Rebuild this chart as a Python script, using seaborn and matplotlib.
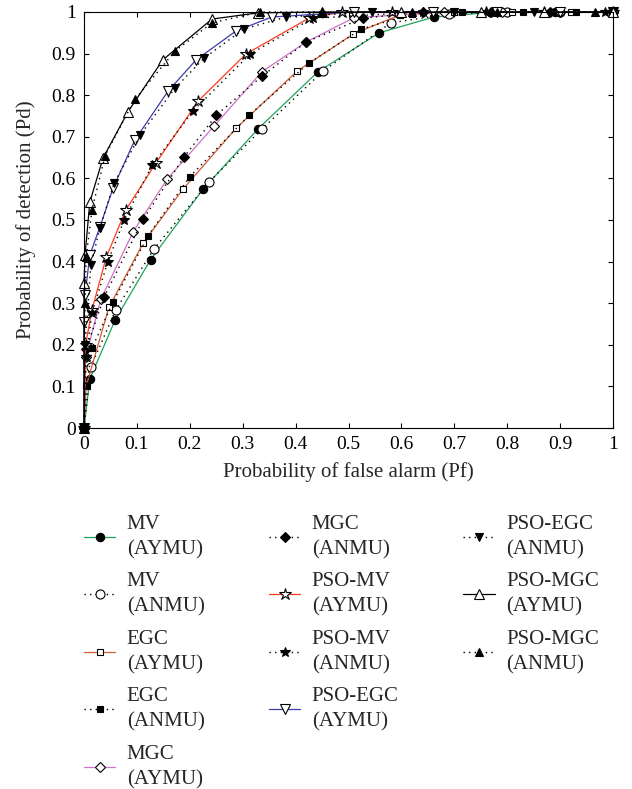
import matplotlib

matplotlib.use("Agg")
import matplotlib.pyplot as plt
import numpy as np
import seaborn as sns
from matplotlib.lines import Line2D

# series labels (legend order)
series_labels = [
    "MV\n(AYMU)", "MV\n(ANMU)", "EGC\n(AYMU)", "EGC\n(ANMU)", "MGC\n(AYMU)",
    "MGC\n(ANMU)", "PSO-MV\n(AYMU)", "PSO-MV\n(ANMU)", "PSO-EGC\n(AYMU)",
    "PSO-EGC\n(ANMU)", "PSO-MGC\n(AYMU)", "PSO-MGC\n(ANMU)",
]

# values (Pf, Pd)
mv_aymu_pf = [0, 0.011, 0.059, 0.126, 0.225, 0.329, 0.442, 0.558, 0.662, 0.78, 0.89, 1.0]
mv_aymu_pd = [0, 0.118, 0.26, 0.405, 0.574, 0.719, 0.856, 0.950, 0.988, 1.0, 1.0, 1.0]

mv_anmu_pf = [0, 0.013, 0.06, 0.132, 0.236, 0.336, 0.452, 0.58, 0.69, 0.80, 0.90, 1.0]
mv_anmu_pd = [0, 0.147, 0.284, 0.43, 0.591, 0.718, 0.858, 0.974, 0.995, 1.0, 1.0, 1.0]

egc_aymu_pf = [0, 0.004, 0.047, 0.112, 0.187, 0.287, 0.403, 0.509, 0.597, 0.70, 0.81, 0.92, 1.0]
egc_aymu_pd = [0, 0.10, 0.29, 0.445, 0.574, 0.72, 0.858, 0.947, 0.993, 1.0, 1.0, 1.0, 1.0]

egc_anmu_pf = [0, 0.005, 0.015, 0.055, 0.121, 0.2, 0.312, 0.425, 0.524, 0.62, 0.715, 0.83, 0.93, 1.0]
egc_anmu_pd = [0, 0.1, 0.192, 0.303, 0.462, 0.604, 0.752, 0.877, 0.959, 0.995, 1.0, 1.0, 1.0, 1.0]

mgc_aymu_pf = [0, 0.003, 0.032, 0.093, 0.157, 0.246, 0.336, 0.42, 0.51, 0.68, 0.79, 0.90, 1.0]
mgc_aymu_pd = [0, 0.17, 0.31, 0.472, 0.598, 0.726, 0.856, 0.928, 0.986, 1.0, 1.0, 1.0, 1.0]

mgc_anmu_pf = [0, 0.004, 0.038, 0.112, 0.189, 0.25, 0.336, 0.42, 0.527, 0.64, 0.77, 0.88, 1.0]
mgc_anmu_pd = [0, 0.19, 0.315, 0.502, 0.651, 0.752, 0.845, 0.928, 0.985, 1.0, 1.0, 1.0, 1.0]

psomv_aymu_pf = [0, 0.003, 0.015, 0.042, 0.079, 0.136, 0.216, 0.306, 0.425, 0.488, 0.582, 0.76, 0.87, 1.0]
psomv_aymu_pd = [0, 0.2, 0.284, 0.41, 0.524, 0.637, 0.786, 0.899, 0.985, 1.0, 1.0, 1.0, 1.0, 1.0]

psomv_anmu_pf = [0, 0.004, 0.015, 0.045, 0.076, 0.129, 0.206, 0.314, 0.432, 0.64, 0.76, 0.87, 0.985]
psomv_anmu_pd = [0, 0.17, 0.276, 0.40, 0.50, 0.632, 0.762, 0.899, 0.985, 1.0, 1.0, 1.0, 1.0]

psoegc_aymu_pf = [0, 0.0, 0.002, 0.011, 0.03, 0.055, 0.096, 0.159, 0.212, 0.287, 0.355, 0.51, 0.66, 0.78, 0.90, 1.0]
psoegc_aymu_pd = [0, 0.255, 0.32, 0.416, 0.483, 0.577, 0.692, 0.81, 0.885, 0.954, 0.988, 1.0, 1.0, 1.0, 1.0, 1.0]

psoegc_anmu_pf = [0, 0.002, 0.013, 0.03, 0.057, 0.106, 0.172, 0.227, 0.302, 0.382, 0.544, 0.70, 0.85, 1.0]
psoegc_anmu_pd = [0, 0.2, 0.392, 0.48, 0.589, 0.704, 0.817, 0.889, 0.959, 0.988, 1.0, 1.0, 1.0, 1.0]

psomgc_aymu_pf = [0, 0.0, 0.002, 0.011, 0.036, 0.083, 0.149, 0.242, 0.329, 0.45, 0.60, 0.75, 0.87, 1.0]
psomgc_aymu_pd = [0, 0.349, 0.416, 0.543, 0.649, 0.76, 0.885, 0.983, 0.998, 1.0, 1.0, 1.0, 1.0, 1.0]

psomgc_anmu_pf = [0, 0.002, 0.004, 0.015, 0.04, 0.096, 0.172, 0.242, 0.333, 0.45, 0.62, 0.78, 0.966]
psomgc_anmu_pd = [0, 0.3, 0.41, 0.524, 0.655, 0.79, 0.906, 0.974, 1.0, 1.0, 1.0, 1.0, 1.0]

pf_values = [
    mv_aymu_pf, mv_anmu_pf, egc_aymu_pf, egc_anmu_pf, mgc_aymu_pf, mgc_anmu_pf,
    psomv_aymu_pf, psomv_anmu_pf, psoegc_aymu_pf, psoegc_anmu_pf, psomgc_aymu_pf, psomgc_anmu_pf,
]
pd_values = [
    mv_aymu_pd, mv_anmu_pd, egc_aymu_pd, egc_anmu_pd, mgc_aymu_pd, mgc_anmu_pd,
    psomv_aymu_pd, psomv_anmu_pd, psoegc_aymu_pd, psoegc_anmu_pd, psomgc_aymu_pd, psomgc_anmu_pd,
]

tick_values = [0, 0.1, 0.2, 0.3, 0.4, 0.5, 0.6, 0.7, 0.8, 0.9, 1.0]
tick_labels = ["0", "0.1", "0.2", "0.3", "0.4", "0.5", "0.6", "0.7", "0.8", "0.9", "1"]

# (line colour, linestyle, marker, filled, marker size)
DOT = (0, (1, 3))
styles = [
    ("#1fa35a", "-", "o", True, 6),
    ("black", DOT, "o", False, 6.5),
    ("#d45a32", "-", "s", False, 5),
    ("black", DOT, "s", True, 5),
    ("#d070c8", "-", "D", False, 5.5),
    ("black", DOT, "D", True, 5),
    ("#ff3a1c", "-", "*", False, 9),
    ("black", DOT, "*", True, 7.5),
    ("#3c3cac", "-", "v", False, 6.5),
    ("black", DOT, "v", True, 6),
    ("black", "-", "^", False, 6.5),
    ("black", DOT, "^", True, 6),
]

sns.set_style("ticks")
plt.rcParams["font.family"] = ["Liberation Serif", "DejaVu Serif"]

fig = plt.figure(figsize=(6.32, 7.89), dpi=100)
ax = fig.add_axes([84 / 632, 1 - 428 / 789, 529 / 632, 416 / 789])

handles = []
for pf, pdet, (color, ls, marker, filled, ms) in zip(pf_values, pd_values, styles):
    sns.lineplot(
        x=np.array(pf), y=np.array(pdet), ax=ax, sort=False, estimator=None,
        color=color, linestyle=ls, linewidth=0.9 if ls == "-" else 1.0,
        marker=marker, markersize=ms,
        markerfacecolor="black" if filled else "white",
        markeredgecolor="black", markeredgewidth=0.8,
        clip_on=False, legend=False,
    )
    handles.append(ax.get_lines()[-1])

ax.set_xlim(0, 1)
ax.set_ylim(0, 1)
ax.set_xticks(tick_values)
ax.set_xticklabels(tick_labels)
ax.set_yticks(tick_values)
ax.set_yticklabels(tick_labels)
ax.tick_params(direction="in", top=True, right=True, length=3.5, width=0.8,
               labelsize=14, pad=6, colors="black")
for spine in ax.spines.values():
    spine.set_linewidth(0.8)
    spine.set_color("black")
ax.set_xlabel("Probability of false alarm (Pf)", fontsize=15, labelpad=6)
ax.set_ylabel("Probability of detection (Pd)", fontsize=15, labelpad=11)

# blank slot so the columns split 5 / 4 / 3 like the original
blank = Line2D([], [], linestyle="none", marker=None)
leg = ax.legend(
    handles + [blank], series_labels + [""], loc="upper left",
    bbox_to_anchor=(0.0, -0.208), ncol=3, frameon=False, fontsize=15,
    handlelength=1.5, handletextpad=0.55, columnspacing=3.1,
    labelspacing=0.62, borderpad=0, borderaxespad=0,
)
for text in leg.get_texts():
    text.set_linespacing(1.45)

fig.savefig("out.png", dpi=100)
